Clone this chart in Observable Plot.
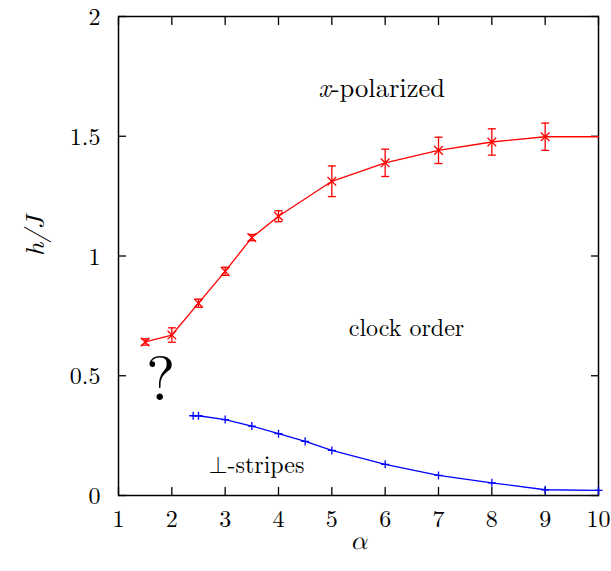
<!DOCTYPE html>
<html><head><meta charset="utf-8">
<script src="https://cdn.jsdelivr.net/npm/d3@7"></script>
<script src="https://cdn.jsdelivr.net/npm/@observablehq/plot@0.6"></script>
<style>
body{margin:0;background:#fff}
#chart{width:611px;height:571px}
</style>
</head><body><div id="chart"></div>
<script>
// tick values
const xTicks = [1, 2, 3, 4, 5, 6, 7, 8, 9, 10];
const yTicks = [0, 0.5, 1, 1.5, 2];
// red boundary (x-polarized / clock order) with error bars
const redAlpha = [1.5, 2, 2.5, 3, 3.5, 4, 5, 6, 7, 8, 9, 10];
const redH     = [0.641, 0.670, 0.803, 0.936, 1.077, 1.166, 1.312, 1.389, 1.441, 1.476, 1.498, 1.498];
const redErr   = [0.013, 0.030, 0.017, 0.017, 0.013, 0.023, 0.064, 0.057, 0.055, 0.055, 0.057, null];
// blue boundary (clock order / stripes)
const blueAlpha = [2.4, 2.5, 3, 3.5, 4, 4.5, 5, 6, 7, 8, 9, 10];
const blueH     = [0.333, 0.333, 0.317, 0.290, 0.258, 0.226, 0.188, 0.130, 0.084, 0.053, 0.024, 0.021];
// region labels
const labelText  = ["clock order", "\u22a5-stripes", "?"];
const labelAlpha = [6.4, 3.59, 1.79];
const labelH     = [0.70, 0.125, 0.48];

const FONT = "'Latin Modern Roman', 'Latin Modern Math', 'Liberation Serif', serif";
const RED = "#ff0000", BLUE = "#0000ff";

const red = redAlpha.map((a, i) => ({alpha: a, h: redH[i], err: redErr[i]}));
const redPts = red.filter(d => d.err != null);
const blue = blueAlpha.map((a, i) => ({alpha: a, h: blueH[i]}));
const labels = labelText.map((t, i) => ({text: t, alpha: labelAlpha[i], h: labelH[i]}));

const cap = {draw(ctx) { ctx.moveTo(-4, 0); ctx.lineTo(4, 0); }};
const fmt = d => String(d);

const chart = Plot.plot({
  width: 611, height: 571,
  marginLeft: 118, marginRight: 13, marginTop: 16, marginBottom: 76,
  style: {fontFamily: FONT, fontSize: "24px", background: "#fff", color: "#000"},
  x: {domain: [1, 10]},
  y: {domain: [0, 2]},
  marks: [
    // inward ticks on all four sides
    Plot.axisX(xTicks, {anchor: "bottom", tickSize: -8, text: null, label: null, strokeWidth: 1.3}),
    Plot.axisX(xTicks, {anchor: "top", tickSize: -8, text: null, label: null, strokeWidth: 1.3}),
    Plot.axisY(yTicks, {anchor: "left", tickSize: -8, text: null, label: null, strokeWidth: 1.3}),
    Plot.axisY(yTicks, {anchor: "right", tickSize: -8, text: null, label: null, strokeWidth: 1.3}),
    // tick labels
    Plot.axisX(xTicks, {anchor: "bottom", tickSize: 0, tickPadding: 14, tickFormat: fmt, label: null, fontSize: 24}),
    Plot.axisY(yTicks, {anchor: "left", tickSize: 0, tickPadding: 18, tickFormat: fmt, label: null, fontSize: 24, dy: 1}),
    Plot.frame({stroke: "#000", strokeWidth: 1.5}),
    // blue line
    Plot.line(blue, {x: "alpha", y: "h", stroke: BLUE, strokeWidth: 1.3}),
    Plot.dot(blue, {x: "alpha", y: "h", symbol: "plus", r: 2.7, stroke: BLUE, fill: "none", strokeWidth: 1.3}),
    // red line with error bars
    Plot.line(red, {x: "alpha", y: "h", stroke: RED, strokeWidth: 1.3}),
    Plot.ruleX(redPts, {x: "alpha", y1: d => d.h - d.err, y2: d => d.h + d.err, stroke: RED, strokeWidth: 1.3}),
    Plot.dot(redPts, {x: "alpha", y: d => d.h - d.err, symbol: cap, stroke: RED, fill: "none", strokeWidth: 1.3}),
    Plot.dot(redPts, {x: "alpha", y: d => d.h + d.err, symbol: cap, stroke: RED, fill: "none", strokeWidth: 1.3}),
    Plot.dot(redPts, {x: "alpha", y: "h", symbol: "times", r: 4, stroke: RED, fill: "none", strokeWidth: 1.3}),
    // region labels
    Plot.text([0], {x: 4.98, y: 1.70, text: () => "x", textAnchor: "end", fontStyle: "italic", fontSize: 26.5}),
    Plot.text([0], {x: 4.98, y: 1.70, text: () => "-polarized", textAnchor: "start", fontSize: 26.5}),
    Plot.text(labels.slice(0, 2), {x: "alpha", y: "h", text: "text", fontSize: 24}),
    Plot.text(labels.slice(2), {x: "alpha", y: "h", text: "text", fontSize: 62}),
    // axis titles
    Plot.text([0], {frameAnchor: "bottom", text: () => "\u03b1", dy: 53, fontSize: 26, fontStyle: "italic"}),
    Plot.text([0], {frameAnchor: "left", text: () => "h/J", dx: -83, rotate: -90, fontSize: 26, fontStyle: "italic"})
  ]
});
chart.querySelectorAll("text, g").forEach(el => { el.style.fontFamily = FONT; });
chart.style.fontFamily = FONT;
document.getElementById("chart").appendChild(chart);
</script>
</body></html>
